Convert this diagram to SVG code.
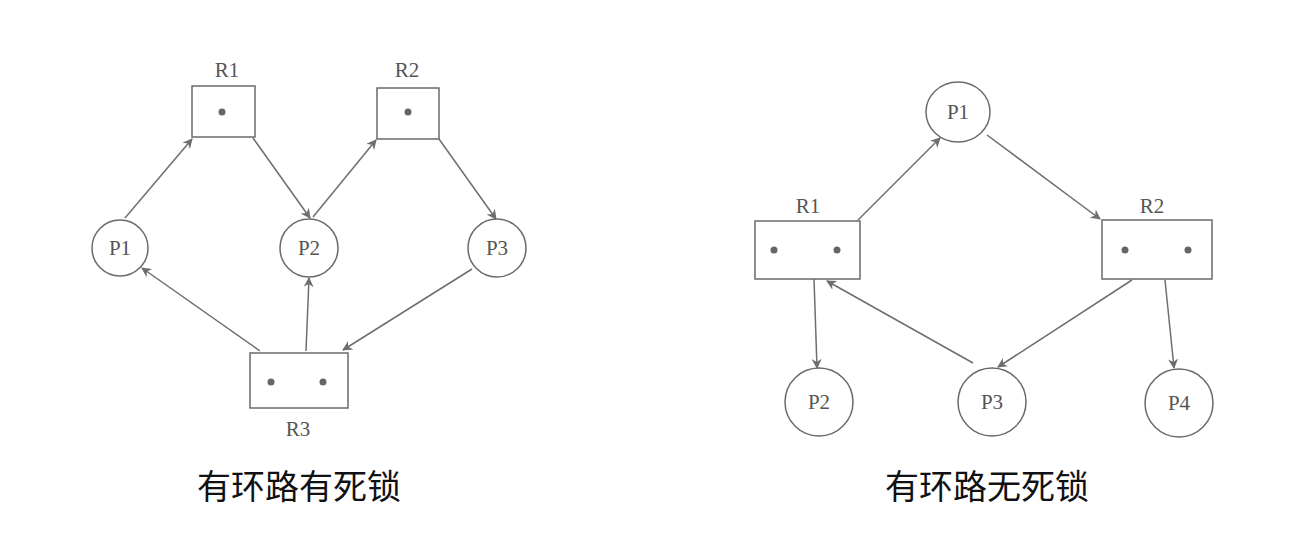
<svg xmlns="http://www.w3.org/2000/svg" width="1299" height="541" viewBox="0 0 1299 541">
<defs>
<style>
.node{fill:#fff;stroke:#6a6a6a;stroke-width:1.5}
.lbl{font-family:"Liberation Serif","DejaVu Serif",serif;font-size:21px;fill:#555;text-anchor:middle}
.dot{fill:#666}
.edge{stroke:#6e6e6e;stroke-width:1.5;fill:none;marker-end:url(#ah)}
.cap{font-family:"Noto Sans CJK SC","Liberation Sans",sans-serif;font-size:34px;fill:#111;text-anchor:middle}
</style>
<marker id="ah" viewBox="0 0 10 10" refX="9" refY="5" markerWidth="11" markerHeight="10" markerUnits="userSpaceOnUse" orient="auto">
<path d="M0,0 L10,5 L0,10 L3,5 Z" fill="#6e6e6e"/>
</marker>
</defs>
<rect width="1299" height="541" fill="#fff"/>
<g id="connectors">
<line class="edge" x1="125" y1="218" x2="192" y2="139"/>
<line class="edge" x1="253" y1="138" x2="310" y2="218"/>
<line class="edge" x1="313" y1="217" x2="376" y2="140"/>
<line class="edge" x1="439" y1="139" x2="496" y2="219"/>
<line class="edge" x1="472" y1="269" x2="343" y2="350"/>
<line class="edge" x1="260" y1="351" x2="142" y2="268"/>
<line class="edge" x1="306" y1="351" x2="309" y2="278"/>
<line class="edge" x1="858" y1="220" x2="940" y2="138"/>
<line class="edge" x1="987" y1="135" x2="1100" y2="219"/>
<line class="edge" x1="814" y1="279" x2="817" y2="368"/>
<line class="edge" x1="973" y1="363" x2="827" y2="281"/>
<line class="edge" x1="1132" y1="280" x2="998" y2="367"/>
<line class="edge" x1="1165" y1="280" x2="1174" y2="368"/>
</g>
<g id="L-R1"><rect class="node" x="192" y="86" width="63" height="51"/><circle class="dot" cx="222" cy="112" r="3.5"/><text class="lbl" x="227" y="77">R1</text></g>
<g id="L-R2"><rect class="node" x="377" y="88" width="62" height="51"/><circle class="dot" cx="408" cy="112" r="3.5"/><text class="lbl" x="407" y="77">R2</text></g>
<g id="L-R3"><rect class="node" x="250" y="353" width="98" height="55"/><circle class="dot" cx="271" cy="382" r="3.5"/><circle class="dot" cx="323" cy="382" r="3.5"/><text class="lbl" x="298" y="436">R3</text></g>
<g id="L-P1"><circle class="node" cx="120" cy="248" r="28"/><text class="lbl" x="120" y="255">P1</text></g>
<g id="L-P2"><circle class="node" cx="309" cy="248" r="29"/><text class="lbl" x="309" y="255">P2</text></g>
<g id="L-P3"><circle class="node" cx="497" cy="248" r="29"/><text class="lbl" x="497" y="255">P3</text></g>
<g id="R-P1"><ellipse class="node" cx="958" cy="112" rx="32" ry="30"/><text class="lbl" x="958" y="119">P1</text></g>
<g id="R-R1"><rect class="node" x="755" y="221" width="105" height="58"/><circle class="dot" cx="774" cy="250" r="3.5"/><circle class="dot" cx="837" cy="250" r="3.5"/><text class="lbl" x="808" y="213">R1</text></g>
<g id="R-R2"><rect class="node" x="1102" y="220" width="110" height="59"/><circle class="dot" cx="1125" cy="250" r="3.5"/><circle class="dot" cx="1188" cy="250" r="3.5"/><text class="lbl" x="1152" y="213">R2</text></g>
<g id="R-P2"><circle class="node" cx="819" cy="402" r="34"/><text class="lbl" x="819" y="409">P2</text></g>
<g id="R-P3"><circle class="node" cx="992" cy="402" r="34"/><text class="lbl" x="992" y="409">P3</text></g>
<g id="R-P4"><circle class="node" cx="1179" cy="403" r="34"/><text class="lbl" x="1179" y="410">P4</text></g>
<g id="captions">
<text class="cap" x="299" y="499">有环路有死锁</text>
<text class="cap" x="987" y="499">有环路无死锁</text>
</g>
</svg>
